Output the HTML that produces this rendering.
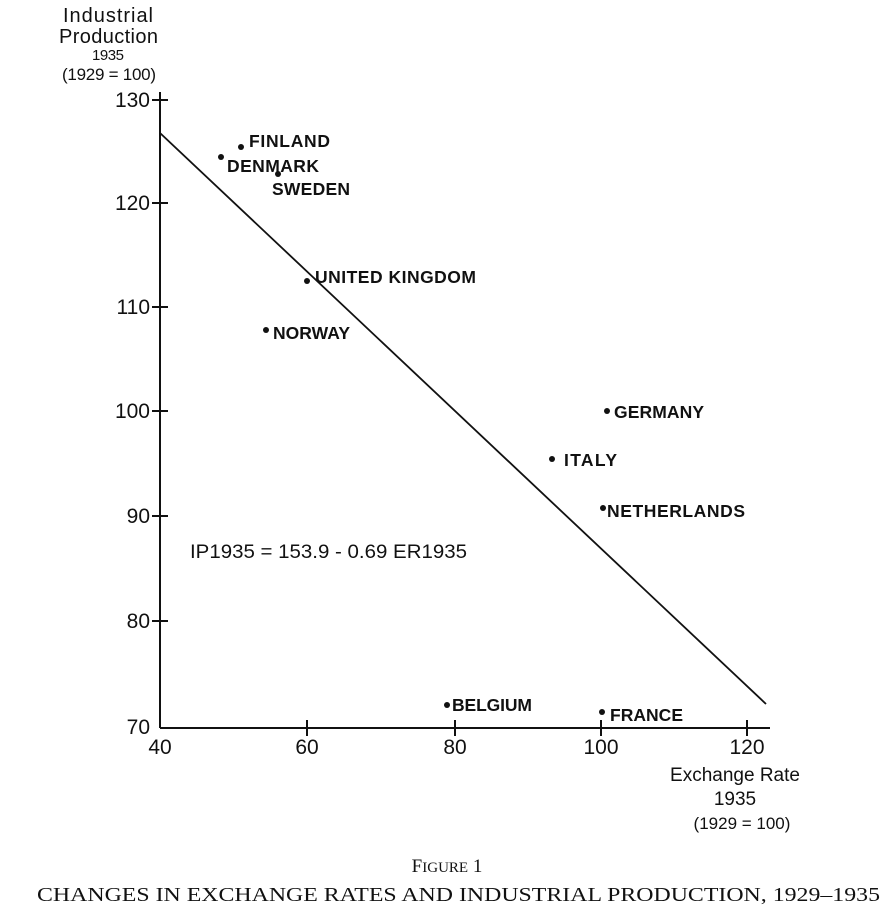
<!DOCTYPE html>
<html><head><meta charset="utf-8"><style>
html,body{margin:0;padding:0;background:#fff;}
svg{display:block;}
text{font-family:"Liberation Sans",sans-serif;fill:#111;}
.t{font-size:21px;}
.l{font-size:17.5px;font-weight:bold;}
</style></head><body>
<svg width="895" height="912" viewBox="0 0 895 912" xmlns="http://www.w3.org/2000/svg">
<g stroke="#111" stroke-width="2" fill="none">
<line x1="160" y1="92" x2="160" y2="728"/>
<line x1="160" y1="728" x2="770" y2="728"/>
<line x1="152" y1="100" x2="168" y2="100"/>
<line x1="152" y1="203" x2="168" y2="203"/>
<line x1="152" y1="307" x2="168" y2="307"/>
<line x1="152" y1="411" x2="168" y2="411"/>
<line x1="152" y1="516" x2="168" y2="516"/>
<line x1="152" y1="621" x2="168" y2="621"/>
<line x1="307" y1="720" x2="307" y2="736"/>
<line x1="455" y1="720" x2="455" y2="736"/>
<line x1="601" y1="720" x2="601" y2="736"/>
<line x1="747" y1="720" x2="747" y2="736"/>
<line x1="160" y1="133" x2="766" y2="704" stroke-width="1.8"/>
</g>
<g class="t" text-anchor="end">
<text x="150" y="107">130</text>
<text x="150" y="210">120</text>
<text x="150" y="314">110</text>
<text x="150" y="418">100</text>
<text x="150" y="523">90</text>
<text x="150" y="628">80</text>
<text x="150" y="734">70</text>
</g>
<g class="t" text-anchor="middle">
<text x="160" y="754">40</text>
<text x="307" y="754">60</text>
<text x="455" y="754">80</text>
<text x="601" y="754">100</text>
<text x="747" y="754">120</text>
</g>
<g font-size="20">
<text x="63" y="22" textLength="90">Industrial</text>
<text x="59" y="43" textLength="99">Production</text>
<text x="92" y="60" font-size="15" textLength="32">1935</text>
<text x="62" y="80" font-size="17" textLength="94">(1929 = 100)</text>
</g>
<g font-size="19" text-anchor="middle">
<text x="735" y="781">Exchange Rate</text>
<text x="735" y="805">1935</text>
<text x="742" y="829" font-size="17">(1929 = 100)</text>
</g>
<text x="190" y="558" font-size="19" textLength="277" lengthAdjust="spacingAndGlyphs">IP1935 = 153.9 - 0.69 ER1935</text>
<g fill="#111">
<circle cx="241" cy="147" r="3"/><circle cx="221" cy="157" r="3"/><circle cx="278" cy="174" r="3"/>
<circle cx="307" cy="281" r="3"/><circle cx="266" cy="330" r="3"/><circle cx="607" cy="411" r="3"/>
<circle cx="552" cy="459" r="3"/><circle cx="603" cy="508" r="3"/><circle cx="447" cy="705" r="3"/>
<circle cx="602" cy="712" r="3"/>
</g>
<g class="l">
<text x="249" y="147" textLength="81">FINLAND</text>
<text x="227" y="172" textLength="92">DENMARK</text>
<text x="272" y="195" textLength="78">SWEDEN</text>
<text x="315" y="283" textLength="161">UNITED KINGDOM</text>
<text x="273" y="339" textLength="77">NORWAY</text>
<text x="614" y="418" textLength="90">GERMANY</text>
<text x="564" y="466" textLength="53">ITALY</text>
<text x="607" y="517" textLength="138">NETHERLANDS</text>
<text x="452" y="711" textLength="80">BELGIUM</text>
<text x="610" y="721" textLength="73">FRANCE</text>
</g>
<text x="447" y="872" text-anchor="middle" style="font-family:'Liberation Serif',serif" font-size="19">F<tspan font-size="15">IGURE</tspan> 1</text>
<text x="37" y="901" style="font-family:'Liberation Serif',serif" font-size="20" textLength="843" lengthAdjust="spacingAndGlyphs">CHANGES IN EXCHANGE RATES AND INDUSTRIAL PRODUCTION, 1929–1935</text>
</svg>
</body></html>
